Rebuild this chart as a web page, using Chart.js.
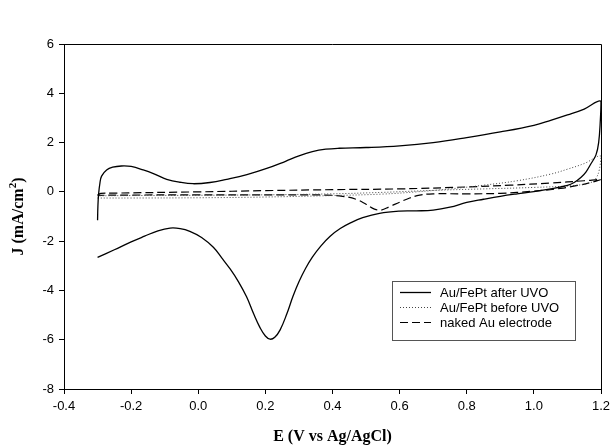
<!DOCTYPE html>
<html>
<head>
<meta charset="utf-8">
<script src="https://cdn.jsdelivr.net/npm/chart.js@4.4.1/dist/chart.umd.min.js"></script>
<style>
  html, body { margin: 0; padding: 0; background: #fff; }
  #wrap { width: 611px; height: 446px; }
</style>
</head>
<body>
<div id="wrap"><canvas id="myChart" width="611" height="446"></canvas></div>
<script>
// Au/FePt after UVO (forward scan then return scan)
const eAfter = [-0.300, -0.299, -0.297, -0.293, -0.288, -0.273, -0.255, -0.229, -0.200, -0.164, -0.130, -0.094, -0.055, -0.015, 0.035, 0.085, 0.145, 0.204, 0.260, 0.300, 0.340, 0.380, 0.420, 0.500, 0.600, 0.700, 0.800, 0.900, 1.000, 1.050, 1.100, 1.150, 1.200,
  1.198, 1.193, 1.185, 1.170, 1.155, 1.140, 1.120, 1.100, 1.050, 1.000, 0.950, 0.900, 0.850, 0.800, 0.750, 0.700, 0.650, 0.600, 0.540, 0.490, 0.455, 0.423, 0.393, 0.365, 0.340, 0.320, 0.300, 0.282, 0.264, 0.244, 0.228, 0.214, 0.200, 0.184, 0.165, 0.144, 0.120, 0.095, 0.070, 0.045, 0.010, -0.025, -0.054, -0.084, -0.120, -0.160, -0.200, -0.250, -0.300];
const jAfter = [-1.15, -0.60, -0.10, 0.35, 0.64, 0.89, 1.00, 1.05, 1.03, 0.89, 0.72, 0.51, 0.39, 0.33, 0.38, 0.51, 0.70, 0.95, 1.24, 1.46, 1.63, 1.73, 1.77, 1.80, 1.87, 2.00, 2.20, 2.43, 2.70, 2.90, 3.12, 3.36, 3.68,
  2.90, 2.00, 1.50, 1.14, 0.80, 0.58, 0.38, 0.26, 0.12, 0.01, -0.08, -0.18, -0.30, -0.43, -0.62, -0.74, -0.77, -0.78, -0.87, -1.05, -1.25, -1.49, -1.80, -2.20, -2.65, -3.10, -3.65, -4.25, -4.95, -5.60, -5.90, -5.98, -5.85, -5.51, -4.95, -4.26, -3.65, -3.13, -2.68, -2.25, -1.85, -1.60, -1.49, -1.47, -1.58, -1.80, -2.03, -2.35, -2.66];

// Au/FePt before UVO
const eBefore = [-0.300, -0.200, 0.000, 0.200, 0.400, 0.550, 0.650, 0.750, 0.850, 0.950, 1.050, 1.100, 1.150, 1.200,
  1.195, 1.185, 1.170, 1.120, 1.000, 0.850, 0.700, 0.550, 0.400, 0.200, 0.000, -0.200, -0.300];
const jBefore = [-0.25, -0.25, -0.24, -0.21, -0.15, -0.09, 0.00, 0.12, 0.27, 0.45, 0.72, 0.92, 1.15, 1.45,
  0.90, 0.55, 0.38, 0.26, 0.18, 0.12, 0.06, -0.02, -0.08, -0.12, -0.14, -0.15, -0.16];

// naked Au electrode
const eNaked = [-0.300, -0.290, -0.250, 0.000, 0.200, 0.400, 0.600, 0.800, 0.930, 1.050, 1.150, 1.200,
  1.170, 1.130, 1.080, 1.000, 0.900, 0.800, 0.700, 0.660, 0.630, 0.600, 0.570, 0.545, 0.525, 0.500, 0.470, 0.430, 0.380, 0.200, 0.000, -0.200, -0.300];
const jNaked = [-0.12, -0.06, -0.05, 0.00, 0.05, 0.09, 0.12, 0.20, 0.27, 0.36, 0.45, 0.50,
  0.38, 0.26, 0.14, 0.03, -0.06, -0.08, -0.08, -0.13, -0.25, -0.42, -0.60, -0.74, -0.70, -0.50, -0.30, -0.18, -0.13, -0.12, -0.12, -0.13, -0.14];

const xTicks = [-0.4, -0.2, 0.0, 0.2, 0.4, 0.6, 0.8, 1.0, 1.2];
const yTicks = [-8, -6, -4, -2, 0, 2, 4, 6];

const tickFont = '"Liberation Sans", Arial, sans-serif';
const titleFont = '"Liberation Serif", "Times New Roman", serif';

function pts(xs, ys) {
    return xs.map((x, i) => ({ x: x, y: ys[i] }));
}

// frame on top and right, y title with superscript, boxed legend
const framePlugin = {
    id: 'frame',
    afterDraw(chart) {
        const c = chart.ctx;
        const a = chart.chartArea;
        c.save();
        c.strokeStyle = '#000';
        c.lineWidth = 1;
        c.beginPath();
        c.moveTo(a.left, a.top + 0.5);
        c.lineTo(a.right + 0.5, a.top + 0.5);
        c.lineTo(a.right + 0.5, a.bottom);
        c.stroke();

        // y axis title: J (mA/cm^2)
        c.save();
        c.translate(19, (a.top + a.bottom) / 2);
        c.rotate(-Math.PI / 2);
        c.fillStyle = '#000';
        c.textBaseline = 'middle';
        const big = 'bold 16px ' + titleFont;
        const small = 'bold 11px ' + titleFont;
        c.font = big;
        const p1 = 'J (mA/cm', p3 = ')';
        const w1 = c.measureText(p1).width, w3 = c.measureText(p3).width;
        c.font = small;
        const w2 = c.measureText('2').width;
        let x0 = -(w1 + w2 + w3) / 2;
        c.font = big;
        c.fillText(p1, x0, 0);
        c.font = small;
        c.fillText('2', x0 + w1, -6);
        c.font = big;
        c.fillText(p3, x0 + w1 + w2, 0);
        c.restore();

        const bx = a.right - 209, by = a.top + 237, bw = 183, bh = 59;
        c.strokeStyle = '#555';
        c.strokeRect(bx + 0.5, by + 0.5, bw, bh);
        c.font = '13px ' + tickFont;
        c.textBaseline = 'middle';
        c.fillStyle = '#000';
        chart.data.datasets.forEach((ds, i) => {
            const y = by + 11.5 + i * 15;
            c.beginPath();
            c.setLineDash(ds.borderDash || []);
            c.strokeStyle = ds.borderColor;
            c.lineWidth = ds.borderWidth;
            c.moveTo(bx + 8, y);
            c.lineTo(bx + 39, y);
            c.stroke();
            c.setLineDash([]);
            c.fillText(ds.label, bx + 48, y + 0.5);
        });
        c.restore();
    }
};

const ctx = document.getElementById('myChart');
new Chart(ctx, {
    type: 'scatter',
    data: {
        datasets: [
            { label: 'Au/FePt after UVO', data: pts(eAfter, jAfter), showLine: true, borderColor: '#000', borderWidth: 1.3, pointRadius: 0, tension: 0.4 },
            { label: 'Au/FePt before UVO', data: pts(eBefore, jBefore), showLine: true, borderColor: '#444', borderWidth: 1, borderDash: [1, 2], pointRadius: 0, tension: 0.4 },
            { label: 'naked Au electrode', data: pts(eNaked, jNaked), showLine: true, borderColor: '#000', borderWidth: 1.2, borderDash: [8, 4], pointRadius: 0, tension: 0.4 }
        ]
    },
    options: {
        responsive: false,
        animation: false,
        layout: { padding: { top: 44, right: 10, left: 0, bottom: 0 } },
        plugins: { legend: { display: false }, tooltip: { enabled: false } },
        scales: {
            x: {
                type: 'linear',
                min: -0.4, max: 1.2,
                afterBuildTicks: (axis) => { axis.ticks = xTicks.map(v => ({ value: v })); },
                afterFit: (axis) => { axis.height = 57; axis.paddingLeft = 0; axis.paddingRight = 0; },
                border: { display: true, color: '#000', width: 1 },
                grid: { display: true, drawOnChartArea: false, drawTicks: true, tickLength: 5, color: '#000' },
                ticks: {
                    color: '#000', padding: 5, maxRotation: 0,
                    font: { family: tickFont, size: 13 },
                    callback: (v) => v.toFixed(1)
                },
                title: {
                    display: true, text: 'E (V vs Ag/AgCl)', color: '#000',
                    font: { family: titleFont, size: 16, weight: 'bold' },
                    padding: { top: 4, bottom: 0 }
                }
            },
            y: {
                type: 'linear',
                min: -8, max: 6,
                afterBuildTicks: (axis) => { axis.ticks = yTicks.map(v => ({ value: v })); },
                afterFit: (axis) => { axis.width = 64; axis.paddingTop = 0; axis.paddingBottom = 0; },
                border: { display: true, color: '#000', width: 1 },
                grid: { display: true, drawOnChartArea: false, drawTicks: true, tickLength: 5, color: '#000' },
                ticks: {
                    color: '#000', padding: 5,
                    font: { family: tickFont, size: 13 },
                    callback: (v) => String(v)
                },
                title: { display: false }
            }
        }
    },
    plugins: [framePlugin]
});
</script>
</body>
</html>
